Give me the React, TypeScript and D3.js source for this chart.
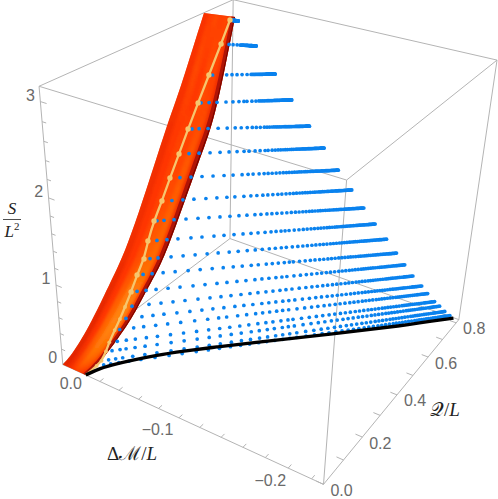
import React from "react";
import * as d3 from "d3";

const rowQStart = [.706,.662,.602,.549,.5,.456,.412,.373,.335,.305,.285,.252,.223,.194,.17,.138,.109,.09,.066,.045];
const rowS = [3.083,2.858,2.57,2.313,2.073,1.839,1.618,1.401,1.222,1.026,.837,.7,.541,.408,.303,.241,.153,.083,.023,.009];
const rowMStart = [-.02,-.02,-.02,-.02,-.02,-.02,-.02,-.02,-.02,-.02,-.02,-.02,-.02,-.02,-.02,-.022,-.023,-.024,-.025,-.025];
const rowMEnd = [-.027,-.047,-.065,-.082,-.102,-.116,-.131,-.144,-.157,-.167,-.177,-.188,-.195,-.203,-.212,-.219,-.226,-.23,-.235,-.241];
const rowQEnd = [.713,.708,.72,.724,.718,.729,.731,.742,.743,.76,.778,.778,.795,.804,.809,.805,.81,.822,.827,.821];
const rowSpan = [8,35,66,94,121,145,168,190,210,227,242,259,274,288,302,313,324,333,341,351];
const rowTau = [
 [2],[8,12,16,19],[3.7,17.7,23,28,33,38,42],[3,11,19,28,35,41,46,49,54,58,61],[4,11,20,30,39,47,53,59,64,68,72,76],
 [10,20,31,41,50,58,65,70,76,81,86,89,93],[10,21,32,43,54,63,72,78,83,89,94,98,102,106],
 [10,21,32,44,55,65,73,82,89,95,101,106,111,116,120],[3,10,20,32,44,55,66,76,85,93,101,107,113,118,123,128],
 [9,19,30,43,54,66,76,86,95,103,110,117,123,128,133,137,141],[6,14,27,39,51,63,74,85,94,103,111,118,125,131,137,142],
 [6,15,26,38,51,63,75,86,96,105,114,121,129,135,141,147,152,156],[6,15,25,37,49,62,74,86,96,106,115,124,131,138,145,151,156],
 [7,24,36,48,60,73,85,96,106,116,125,133,141,148,155,161,167],[6,22,33,44,57,70,82,93,104,115,124,133,142,149,156,163,169,175],
 [5,19,29,41,53,66,80,93,104,112,123,132,141,148,155,162,168,174],[8,17,26,37,48,61,74,87,99,110,120,130,139,148,156,163,171,178,183],
 [6,14,20,29,39,51,65,78,91,103,114,125,135,145,153,161,168,176,182,188],[7,14,21,31,43,55,69,82,95,107,118,129,139,148,157,165,173,180,187,194],
 [7,14,22,32,44,58,72,85,99,111,122,133,143,152,161,169,177,185,192,199]];
const tailFractions = [.06,.115,.165,.21,.255,.295,.335,.37,.405,.44,.47,.5,.53,.555,.58,.605,.63,.65,.67,.69,.71,.73,.75,.77,.785,.8,.815,.83,.845,.86,.875,.89,.905,.92,.93,.94,.95,.96,.97,.98,.99,1];
const extremalM = [-.025,-.0287,-.0364,-.0444,-.0567,-.0717,-.0924,-.113,-.166,-.21,-.245];
const extremalQ = [0,.044,.085,.123,.177,.233,.304,.372,.544,.691,.818];
const ribbonLeftQ = [0,.03,.087,.128,.174,.225,.287,.39,.489,.543,.587,.671];
const ribbonLeftS = [0,.025,.154,.284,.444,.635,.86,1.454,2.068,2.35,2.622,3.147];
const ribbonRightQ = [0,.059,.157,.216,.264,.326,.37,.445,.535,.584,.634,.707];
const ribbonRightS = [0,.011,.175,.304,.464,.636,.809,1.2,1.692,1.93,2.323,3.129];
const ribbonHeat = [
 [.05,.15,.3,.4,.35,.2],[.05,.2,.45,.6,.55,.25],[.1,.3,.55,.75,.7,.3],[.1,.3,.55,.75,.75,.3],
 [.12,.3,.5,.7,.7,.3],[.15,.3,.45,.6,.6,.3],[.2,.3,.4,.5,.55,.25],[.2,.3,.35,.4,.5,.2],
 [.2,.3,.38,.35,.45,.2],[.25,.35,.3,.4,.4,.2],[.25,.4,.3,.42,.35,.2],[.25,.33,.4,.33,.38,.2]];
const sTicks=[0,.2,.4,.6,.8,1,1.2,1.4,1.6,1.8,2,2.2,2.4,2.6,2.8,3];
const qTicks=[0,.1,.2,.3,.4,.5,.6,.7,.8];
const mTicks=[0,-.02,-.04,-.06,-.08,-.1,-.12,-.14,-.16,-.18,-.2,-.22,-.24];
const heatRamp=d3.scaleLinear<string>().domain([0,.3,.6,1]).range(["#d82008","#ff3600","#ff7000","#ffa830"]);

const corners=[[0,0,0,63,365],[1,0,0,323,484],[0,1,0,230,238],[0,0,1,39,86],[1,1,0,459,320],[1,0,1,347,180],[0,1,1,233,0],[1,1,1,497,60]];
function solve(A:number[][],b:number[]){const n=b.length;const m=A.map((r,i)=>[...r,b[i]]);for(let i=0;i<n;i++){let p=i;for(let k=i+1;k<n;k++)if(Math.abs(m[k][i])>Math.abs(m[p][i]))p=k;[m[i],m[p]]=[m[p],m[i]];for(let k=0;k<n;k++)if(k!==i){const f=m[k][i]/m[i][i];for(let j=i;j<=n;j++)m[k][j]-=f*m[i][j];}}return m.map((r,i)=>r[n]/r[i]);}
const dlt:number[][]=[],rhs:number[]=[];
corners.forEach(([X,Y,Z,x,y])=>{dlt.push([X,Y,Z,1,0,0,0,0,-x*X,-x*Y,-x*Z]);rhs.push(x);dlt.push([0,0,0,0,X,Y,Z,1,-y*X,-y*Y,-y*Z]);rhs.push(y);});
const N=d3.range(11).map(i=>d3.range(11).map(j=>d3.sum(dlt,r=>r[i]*r[j])));
const Nb=d3.range(11).map(i=>d3.sum(dlt,(r,k)=>r[i]*rhs[k]));
const p=solve(N,Nb);
const M=[[p[0],p[1],p[2],p[3]],[p[4],p[5],p[6],p[7]],[p[8],p[9],p[10],1]];
const mm=-.25,qm=.82,sm=3.15;
const uS=d3.scaleLinear().domain([0,mm]).range([0,1]);
const vS=d3.scaleLinear().domain([0,qm]).range([0,1]);
const wS=d3.scaleLinear().domain([0,sm]).range([0,1]);
const hom=(m:number,q:number,s:number)=>{const u=uS(m),v=vS(q),w=wS(s);return M.map(r=>r[0]*u+r[1]*v+r[2]*w+r[3]);};
const proj=(m:number,q:number,s:number):[number,number]=>{const h=hom(m,q,s);return [h[0]/h[2],h[1]/h[2]];};

const LQ=d3.interpolateBasis(ribbonLeftQ),LS=d3.interpolateBasis(ribbonLeftS),RQ=d3.interpolateBasis(ribbonRightQ),RS=d3.interpolateBasis(ribbonRightS);
const ribbonM=-.025;
const at=(t:number,f:number)=>{const a=LQ(t),b=LS(t),c=RQ(t),d=RS(t);return proj(ribbonM*f,a+(c-a)*f,b+(d-b)*f);};
const poly=(a:number[][])=>a.map(q=>q.join(",")).join(" ");
const strips=d3.range(0,1.0001,1/60);
const heatCol=d3.range(6).map(j=>d3.interpolateBasis(ribbonHeat.map(r=>r[j])));

const dots:[number,number][]=[];
rowS.forEach((s,i)=>{
 const sc=d3.scaleLinear().domain([0,rowSpan[i]]).range([0,1]);
 const last=rowTau[i][rowTau[i].length-1];
 const taus=[...rowTau[i],...tailFractions.map(f=>last+(rowSpan[i]-last)*f)];
 const wA=hom(rowMStart[i],rowQStart[i],s)[2],wB=hom(rowMEnd[i],rowQEnd[i],s)[2];
 taus.forEach(tau=>{const f=sc(tau);const t=f*wA/((1-f)*wB+f*wA);dots.push(proj(rowMStart[i]+(rowMEnd[i]-rowMStart[i])*t,rowQStart[i]+(rowQEnd[i]-rowQStart[i])*t,s));});
});
const yellow=rowS.map((s,i)=>proj(rowMStart[i],rowQStart[i],s));
const blackPath=d3.line().curve(d3.curveBasis)(extremalM.map((m,i)=>proj(m,extremalQ[i],0)))!;
const yellowPath=d3.line().curve(d3.curveBasis)([...yellow,proj(-.025,0,0)])!;
const edges:[number,number,number][][]=[
 [[0,0,0],[mm,0,0]],[[mm,0,0],[mm,qm,0]],[[mm,qm,0],[0,qm,0]],[[0,qm,0],[0,0,0]],
 [[0,0,sm],[mm,0,sm]],[[mm,0,sm],[mm,qm,sm]],[[mm,qm,sm],[0,qm,sm]],[[0,qm,sm],[0,0,sm]],
 [[0,0,0],[0,0,sm]],[[mm,0,0],[mm,0,sm]],[[mm,qm,0],[mm,qm,sm]],[[0,qm,0],[0,qm,sm]]];
const grey="#b4b4b4",lab="#6a6a6a";
const tf={fontFamily:"'Liberation Sans',sans-serif",fontSize:16,fill:lab,textAnchor:"middle" as const,dominantBaseline:"central" as const};
const ser={fontFamily:"'Liberation Serif',serif",fontSize:19,fill:"#222",textAnchor:"middle" as const,dominantBaseline:"central" as const};
const band=(a:number,b:number)=>poly([...strips.map(t=>at(t,a)),...strips.map(t=>at(t,b)).reverse()]);
const outline=band(0,1);
export default function App(){
 return <svg width={498} height={499} style={{position:"absolute",left:0,top:0,background:"#fff"}}>
 <defs><filter id="b" x="-20%" y="-20%" width="140%" height="140%"><feGaussianBlur stdDeviation="1.8"/></filter><clipPath id="c"><polygon points={outline}/></clipPath></defs>
 {edges.map((e,i)=>{const a=proj(...e[0]),b=proj(...e[1]);return <line key={i} x1={a[0]} y1={a[1]} x2={b[0]} y2={b[1]} stroke={grey} strokeWidth={1}/>;})}
 {sTicks.map((s,i)=>{const a=proj(0,0,s),b=proj(Math.abs(s%1)<.01?-.006:-.004,0,s);return <line key={i} x1={a[0]} y1={a[1]} x2={b[0]} y2={b[1]} stroke={grey}/>;})}
 {qTicks.map((s,i)=>{const a=proj(mm,s,0),b=proj(mm+.006,s,0);return <line key={i} x1={a[0]} y1={a[1]} x2={b[0]} y2={b[1]} stroke={grey}/>;})}
 {mTicks.map((s,i)=>{const a=proj(s,0,0),b=proj(s,.015,0);return <line key={i} x1={a[0]} y1={a[1]} x2={b[0]} y2={b[1]} stroke={grey}/>;})}
 {[0,1,2,3].map(s=>{const a=proj(0,0,s);return <text key={s} x={a[0]-10} y={a[1]-6.5} {...tf}>{s}</text>;})}
 {[0,.2,.4,.6,.8].map(s=>{const a=proj(mm,s,0);return <text key={s} x={a[0]+18} y={a[1]+6} {...tf}>{s.toFixed(1)}</text>;})}
 {[0,-.1,-.2].map((s,i)=>{const a=proj(s,0,0);return <text key={s} x={a[0]+[8,-1,5][i]} y={a[1]+[19,21,23][i]} {...tf}>{i?"\u2212"+(-s).toFixed(1):"0.0"}</text>;})}
 <text x={12} y={208} {...ser} fontSize={17} fontStyle="italic">S</text>
 <line x1={3} x2={21} y1={219.5} y2={219.5} stroke="#222" strokeWidth={.8}/>
 <text x={12} y={231} {...ser} fontSize={17}><tspan fontStyle="italic">L</tspan><tspan dy={-5} fontSize={11}>2</tspan></text>
 <text x={132} y={453} {...ser}>Δℳ/<tspan fontStyle="italic">L</tspan></text>
 <text x={445} y={409} {...ser}>𝒬/<tspan fontStyle="italic">L</tspan></text>
 <polygon points={outline} fill="#f43400"/>
 <g clipPath="url(#c)"><g filter="url(#b)">
  {strips.slice(0,-1).map((t,k)=>d3.range(6).map(j=>{const f0=j/6,f1=(j+1)/6;const t1=strips[k+1];return <polygon key={k+"-"+j} points={poly([at(t,f0),at(t,f1),at(t1,f1),at(t1,f0)])} fill={heatRamp(heatCol[j](t))} stroke={heatRamp(heatCol[j](t))} strokeWidth={.6}/>;}))}
 </g></g>
 <polygon points={band(.88,.96)} fill="#b01406"/>
 <polygon points={band(.96,1)} fill="#7a0400"/>
 {dots.map((d,i)=><circle key={i} cx={d[0]} cy={d[1]} r={1.85} fill="#0a82ee"/>)}
 <path d={yellowPath} fill="none" stroke="#f6c66e" strokeWidth={2.3}/>
 {yellow.map((d,i)=><circle key={i} cx={d[0]} cy={d[1]} r={i<13?2.7:1.9} fill="#f6c66e"/>)}
 <path d={blackPath} fill="none" stroke="#000" strokeWidth={3.4}/>
 </svg>;
}
